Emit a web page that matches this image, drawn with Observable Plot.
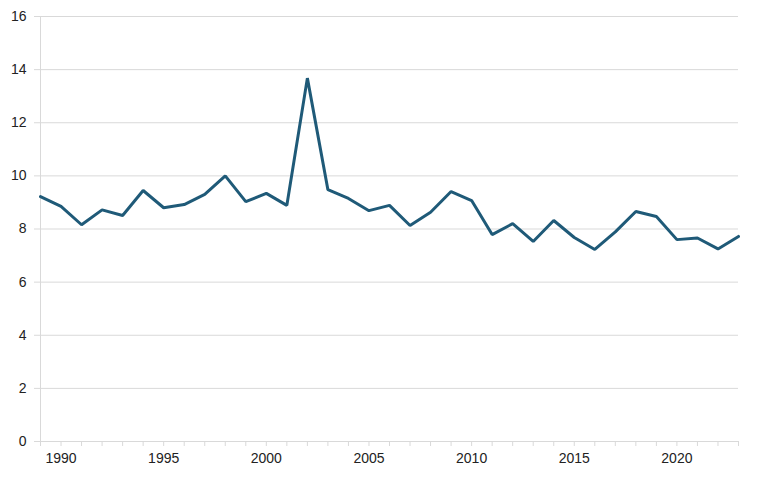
<!DOCTYPE html>
<html>
<head>
<meta charset="utf-8">
<script src="https://cdn.jsdelivr.net/npm/d3@7"></script>
<script src="https://cdn.jsdelivr.net/npm/@observablehq/plot@0.6"></script>
<style>
  html, body { margin: 0; padding: 0; background: #fff; }
  #chart svg { display: block; }
</style>
</head>
<body>
<div id="chart"></div>
<script>
const years = [1989,1990,1991,1992,1993,1994,1995,1996,1997,1998,1999,2000,2001,2002,2003,2004,2005,2006,2007,2008,2009,2010,2011,2012,2013,2014,2015,2016,2017,2018,2019,2020,2021,2022,2023];
const values = [9.22,8.85,8.16,8.72,8.51,9.45,8.80,8.92,9.30,10.0,9.03,9.34,8.89,13.68,9.48,9.15,8.69,8.89,8.13,8.63,9.41,9.07,7.79,8.20,7.53,8.32,7.68,7.23,7.89,8.66,8.47,7.60,7.66,7.25,7.72];
const yTicks = [0,2,4,6,8,10,12,14,16];
const xLabelYears = [1990,1995,2000,2005,2010,2015,2020];

const data = years.map((y, i) => ({year: y, value: values[i]}));

const chart = Plot.plot({
  width: 768,
  height: 480,
  marginLeft: 40,
  marginRight: 30,
  marginTop: 16,
  marginBottom: 39,
  style: {fontFamily: "'Liberation Sans', Arial, sans-serif", fontSize: "14px", color: "#222", background: "#fff"},
  x: {domain: [1989, 2023]},
  y: {domain: [0, 16]},
  marks: [
    Plot.ruleY(yTicks, {stroke: "#d9d9d9", strokeWidth: 1}),
    Plot.ruleX([1989], {stroke: "#d9d9d9", strokeWidth: 1}),
    Plot.axisY({ticks: yTicks, tickSize: 6, tickPadding: 8, stroke: "#d9d9d9", label: null, fill: "#222", fontSize: 14}),
    Plot.axisX({ticks: years, tickSize: 5, tickPadding: 7, stroke: "#d9d9d9", label: null, fill: "#222", fontSize: 14,
      tickFormat: d => xLabelYears.includes(d) ? String(d) : ""}),
    Plot.line(data, {x: "year", y: "value", stroke: "#1f5a78", strokeWidth: 3, strokeLinejoin: "miter"})
  ]
});
document.getElementById("chart").appendChild(chart);
</script>
</body>
</html>
